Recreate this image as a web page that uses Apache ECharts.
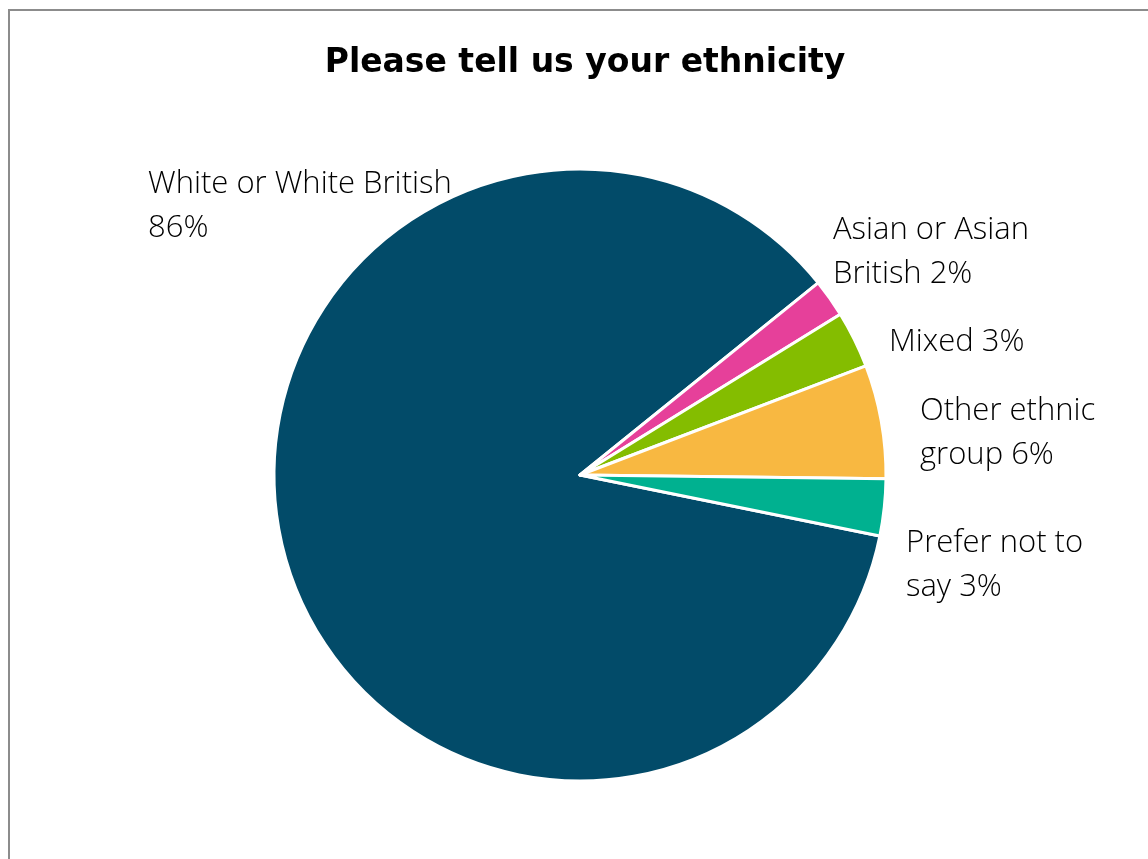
<!DOCTYPE html>
<html>
<head>
<meta charset="utf-8">
<script src="https://cdn.jsdelivr.net/npm/echarts@6/dist/echarts.min.js"></script>
<style>
  html, body { margin: 0; padding: 0; background: #fff; }
  #chart { width: 1148px; height: 859px; }
</style>
</head>
<body>
<div id="chart"></div>
<script>
// Survey responses: ethnicity (percent of respondents)
const categories = ['White or White British', 'Asian or Asian British', 'Mixed', 'Other ethnic group', 'Prefer not to say'];
const percents = [86, 2, 3, 6, 3];
const labelTexts = ['White or White British\n86%', 'Asian or Asian\nBritish 2%', 'Mixed 3%', 'Other ethnic\ngroup 6%', 'Prefer not to\nsay 3%'];

// Presentation
const sliceColors = ['#024b69', '#e6409a', '#84bd00', '#f8b841', '#00b190'];
const labelAnchors = [[148, 206], [833, 252], [889, 342], [920, 433], [906, 565]];

const chart = echarts.init(document.getElementById('chart'), null, { renderer: 'canvas' });

chart.setOption({
  backgroundColor: '#ffffff',
  animation: false,
  title: {
    text: 'Please tell us your ethnicity',
    left: 580,
    top: 42,
    textAlign: 'center',
    textStyle: {
      fontFamily: 'DejaVu Sans',
      fontWeight: 'bold',
      fontSize: 33,
      color: '#000'
    }
  },
  graphic: [{
    type: 'rect',
    shape: { x: 9, y: 10, width: 1400, height: 1200 },
    style: { fill: 'none', stroke: '#8c8c8c', lineWidth: 2 },
    silent: true
  }],
  series: [{
    type: 'pie',
    center: [580, 475],
    radius: 306,
    startAngle: -11.5,
    clockwise: true,
    data: categories.map((name, i) => ({
      name,
      value: percents[i],
      itemStyle: { color: sliceColors[i] },
      label: { formatter: labelTexts[i] }
    })),
    itemStyle: { borderColor: '#ffffff', borderWidth: 3 },
    label: {
      show: true,
      position: 'outside',
      fontFamily: 'Open Sans',
      fontWeight: 300,
      fontSize: 31,
      lineHeight: 44,
      color: '#000',
      align: 'left',
      overflow: 'none',
      width: 400
    },
    labelLine: { show: false },
    labelLayout: function (p) {
      const a = labelAnchors[p.dataIndex];
      return { x: a[0], y: a[1], align: 'left', verticalAlign: 'middle' };
    },
    emphasis: { disabled: true }
  }]
});
</script>
</body>
</html>
